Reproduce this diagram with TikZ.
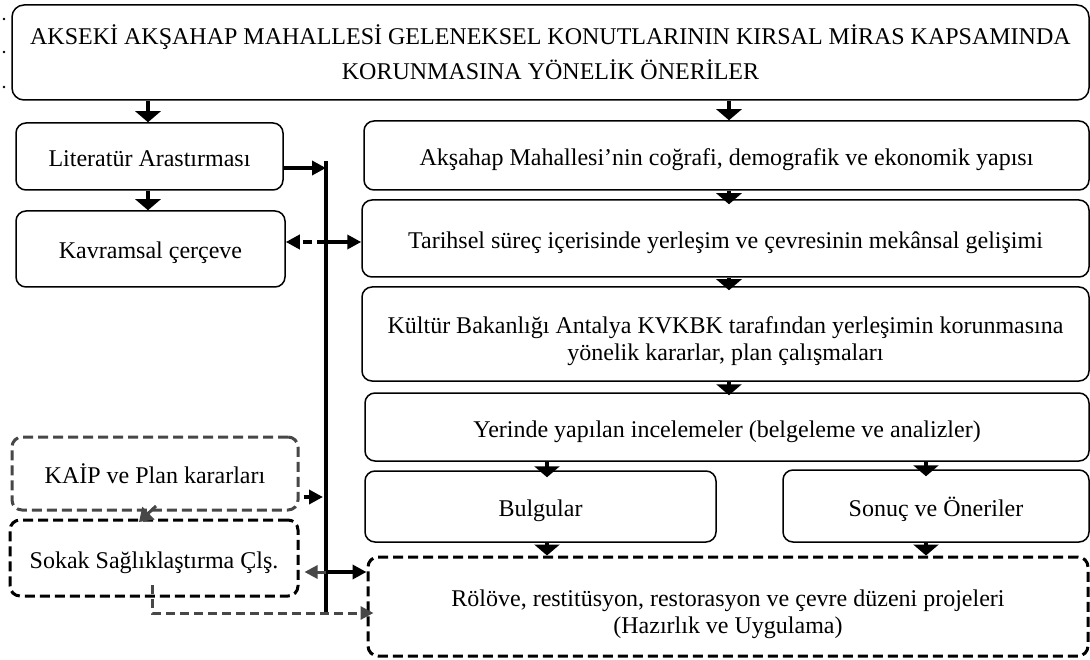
\documentclass[tikz,border=0pt]{standalone}
\usepackage{fontspec}
\setmainfont{Liberation Serif}
\usetikzlibrary{arrows.meta}
\definecolor{linegray}{HTML}{474747}

\begin{document}
\begin{tikzpicture}[x=1pt, y=-1pt,
  box/.style={draw, rounded corners=10pt, line width=1.5pt, align=center, inner sep=0pt,
    font=\fontsize{24}{27}\selectfont, text height=26pt, text depth=6pt},
  twoline/.style={text height=59pt, text depth={}},
  dbox/.style={box, line width=3pt, dash pattern=on 10pt off 5pt},
  down/.style={line width=4pt, -{Triangle[width=25pt,length=11pt]}},
  side/.style={line width=4pt, -{Triangle[width=14pt,length=14pt]}},
  grayside/.style={draw=linegray, line width=3pt, -{Triangle[width=13pt,length=13pt]}, color=linegray}]
  \useasboundingbox (0,0) rectangle (1090,660);
  \foreach \y in {19,52,87} \fill (4,\y) circle (1.3pt);

  \node[box, rounded corners=12pt, minimum width=1077pt, minimum height=95pt,
    text height={}, text depth={}, font=\fontsize{24}{35}\selectfont] (title) at (550.5,52.5)
    {AKSEKİ AKŞAHAP MAHALLESİ GELENEKSEL KONUTLARININ KIRSAL MİRAS KAPSAMINDA\\KORUNMASINA YÖNELİK ÖNERİLER};
  \node[box, minimum width=267pt, minimum height=67pt] (lit) at (149.5,156.5) {Literatür Arastırması};
  \node[box, minimum width=269pt, minimum height=76pt] (kavram) at (150.5,249) {Kavramsal çerçeve};
  \node[box, minimum width=725pt, minimum height=69pt] (cografi) at (726.5,155.5)
    {Akşahap Mahallesi’nin coğrafi, demografik ve ekonomik yapısı};
  \node[box, minimum width=727pt, minimum height=77pt] (tarih) at (725.5,238.5)
    {Tarihsel süreç içerisinde yerleşim ve çevresinin mekânsal gelişimi};
  \node[box, twoline, minimum width=727pt, minimum height=94pt] (kurul) at (725.5,334)
    {Kültür Bakanlığı Antalya KVKBK tarafından yerleşimin korunmasına\\yönelik kararlar, plan çalışmaları};
  \node[box, minimum width=724pt, minimum height=68pt] (yerinde) at (727,427)
    {Yerinde yapılan incelemeler (belgeleme ve analizler)};
  \node[box, minimum width=351pt, minimum height=71pt] (bulgu) at (540.5,506.5) {Bulgular};
  \node[box, minimum width=306pt, minimum height=72pt] (sonuc) at (936,506) {Sonuç ve Öneriler};
  \node[dbox, twoline, minimum width=720pt, minimum height=99pt] (rolove) at (728,606.5)
    {Rölöve, restitüsyon, restorasyon ve çevre düzeni projeleri\\(Hazırlık ve Uygulama)};
  \node[dbox, draw=linegray, minimum width=286pt, minimum height=73pt] (kaip) at (155,473.5) {KAİP ve Plan kararları};
  \node[dbox, minimum width=288pt, minimum height=76pt] (sokak) at (154,558) {Sokak Sağlıklaştırma Çlş.};

  \coordinate (colL) at (148,0);
  \coordinate (colR) at (729,0);
  \coordinate (colB) at (547,0);
  \coordinate (colS) at (926,0);
  \coordinate (spine) at (326,161);
  \coordinate (spineend) at (326,613);
  \coordinate (rowlit) at (0,168);
  \coordinate (rowtar) at (0,242);
  \coordinate (rowkaip) at (0,497);
  \coordinate (rowsok) at (0,572);
  \coordinate (sokdrop) at (152,585);
  \coordinate (kaipfoot) at (156,506);
  \coordinate (sokhead) at (139,522);

  \draw[down] (title.south -| colL) -- (lit.north -| colL);
  \draw[down] (lit.south -| colL) -- (kavram.north -| colL);
  \draw[down] (title.south -| colR) -- (cografi.north -| colR);
  \draw[down, shorten >=-5pt] (cografi.south -| colR) -- (tarih.north -| colR);
  \draw[down, shorten >=-4pt] (tarih.south -| colR) -- (kurul.north -| colR);
  \draw[down, shorten >=-3pt] (kurul.south -| colR) -- (yerinde.north -| colR);
  \draw[down, shorten >=-7pt] (yerinde.south -| colB) -- (bulgu.north -| colB);
  \draw[down, shorten >=-7pt] (yerinde.south -| colS) -- (sonuc.north -| colS);
  \draw[down] (bulgu.south -| colB) -- (rolove.north -| colB);
  \draw[down] (sonuc.south -| colS) -- (rolove.north -| colS);

  \draw[line width=4pt] (spine) -- (spineend);
  \draw[side] (lit.east |- rowlit) -- (spine |- rowlit);
  \draw[side] (spine |- rowtar) -- (tarih.west |- rowtar);
  \draw[side, dash pattern=on 9pt off 5pt] (spine |- rowtar) -- (kavram.east |- rowtar);
  \draw[side, shorten <=4pt, shorten >=3pt] (kaip.east |- rowkaip) -- (spine |- rowkaip);
  \draw[grayside, shorten >=5pt] (spine |- rowsok) -- (sokak.east |- rowsok);
  \draw[side] (spine |- rowsok) -- (rolove.west |- rowsok);
  \draw[grayside, -{Triangle[width=17pt,length=13pt]}] (kaipfoot) -- (sokhead);
  \draw[grayside, dash pattern=on 9pt off 5pt, shorten >=-7pt] (sokdrop) |- (rolove.west |- spineend);
\end{tikzpicture}
\end{document}
